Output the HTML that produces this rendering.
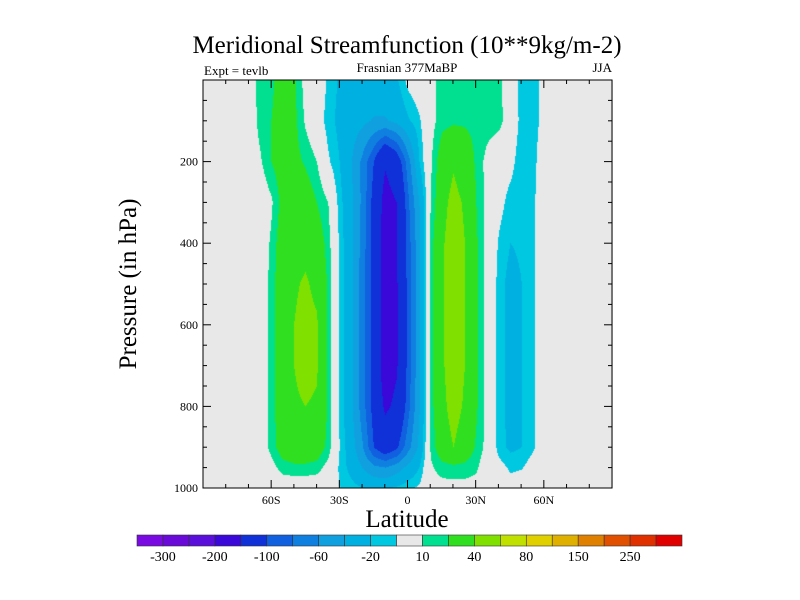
<!DOCTYPE html>
<html><head><meta charset="utf-8"><style>
html,body{margin:0;padding:0;background:#fff;width:800px;height:600px;overflow:hidden}
#wrap{position:relative;width:800px;height:600px}
canvas{position:absolute;left:203px;top:80px}
svg{position:absolute;left:0;top:0}
text{font-family:"Liberation Serif",serif;fill:#000}
</style></head><body>
<div id="wrap">
<canvas id="field" width="410" height="408"></canvas>
<svg id="svg" width="800" height="600"></svg>
</div>
<script>
const lats = [-75,-70,-65,-60,-55,-50,-45,-40,-35,-30,-25,-20,-15,-10,-5,0,5,10,15,20,25,30,35,40,45,50,55,60,65];
const pressures = [0,100,200,300,400,500,600,700,800,900,950,1000];
const psi0   = [0,0,15,18,25,22,5,0,-12,-22,-25,-25,-24,-24,-22,-6,0,5,15,17,17,17,16,13,0,-15,-15,-5,0];
const psi100 = [0,0,14,20,26,24,8,-2,-15,-24,-30,-35,-42,-42,-35,-22,-12,5,16,18,18,17,16,14,2,-15,-15,-5,0];
const psi200 = [0,0,8,20,28,25,18,10,-8,-20,-38,-65,-100,-145,-120,-70,-20,8,30,38,30,18,5,-2,-5,-18,-14,0,0];
const psi300 = [0,0,0,8,25,32,30,20,10,-15,-35,-65,-110,-168,-150,-85,-40,10,35,45,38,20,5,-5,-15,-18,-12,0,0];
const psi400 = [0,0,0,12,30,35,35,30,15,-12,-35,-68,-112,-172,-152,-90,-45,15,38,48,40,22,5,-12,-20,-18,-12,0,0];
const psi500 = [0,0,0,14,32,38,42,36,18,-12,-35,-70,-112,-175,-155,-92,-45,15,38,48,40,22,5,-15,-25,-20,-12,0,0];
const psi600 = [0,0,0,14,32,40,45,42,18,-12,-35,-70,-112,-176,-155,-92,-45,15,38,48,40,22,5,-15,-25,-20,-12,0,0];
const psi700 = [0,0,0,14,32,40,45,42,18,-12,-35,-70,-112,-176,-155,-92,-45,15,38,48,40,22,5,-15,-25,-20,-12,0,0];
const psi800 = [0,0,0,14,32,38,40,38,18,-12,-35,-70,-110,-158,-140,-88,-42,15,36,46,38,22,5,-15,-25,-20,-12,0,0];
const psi900 = [0,0,0,14,28,32,32,30,16,-10,-30,-58,-100,-122,-105,-68,-35,12,32,40,32,18,5,-15,-23,-20,-12,0,0];
const psi950 = [0,0,0,5,15,17,17,15,5,-12,-25,-40,-55,-60,-50,-35,-20,8,15,17,16,12,0,-5,-12,-11,-3,0,0];
const psi1000= [0,0,0,0,0,0,0,0,0,-10,-15,-20,-22,-22,-18,-12,-8,5,5,5,5,5,0,0,-5,-2,0,0,0];
const levels = [-300,-250,-200,-150,-100,-80,-60,-40,-20,-10,10,20,40,60,80,100,150,200,250,300];
const colors = ["#7a0ae2","#6a0ad8","#5a10da","#3a08d8","#1030d8","#1060e0","#1080e0","#10a0e0","#00b0e0","#00c8e0","#e8e8e8","#00e090","#30e020","#80e000","#c0e000","#e0d000","#e0b000","#e08000","#e05000","#e03000","#e00000"];
const cbLabels = ["-300","-200","-100","-60","-20","10","40","80","150","250"];
const xTickVals = [-60,-30,0,30,60];
const xTickLabels = ["60S","30S","0","30N","60N"];
const yTickVals = [200,400,600,800,1000];

const grid=[psi0,psi100,psi200,psi300,psi400,psi500,psi600,psi700,psi800,psi900,psi950,psi1000];
const X0=203,X1=612,Y0=80,Y1=488;
const xs=lat=>X0+(lat+90)/180*(X1-X0);
const ys=p=>Y0+p/1000*(Y1-Y0);
function val(lat,p){
  if(lat<lats[0]||lat>lats[lats.length-1])return 0;
  let i=0;while(i<lats.length-2&&lat>lats[i+1])i++;
  let j=0;while(j<pressures.length-2&&p>pressures[j+1])j++;
  const tx=(lat-lats[i])/(lats[i+1]-lats[i]),ty=(p-pressures[j])/(pressures[j+1]-pressures[j]);
  const a=grid[j][i]*(1-tx)+grid[j][i+1]*tx,b=grid[j+1][i]*(1-tx)+grid[j+1][i+1]*tx;
  return a*(1-ty)+b*ty;
}
function colorIdx(v){let k=0;while(k<levels.length&&v>=levels[k])k++;return k;}
function hex(c){return [parseInt(c.substr(1,2),16),parseInt(c.substr(3,2),16),parseInt(c.substr(5,2),16)];}
const rgb=colors.map(hex);
const cv=document.getElementById('field'),ctx=cv.getContext('2d');
const W=cv.width,H=cv.height,img=ctx.createImageData(W,H);
for(let y=0;y<H;y++){const p=(y+0.5)/H*1000;for(let x=0;x<W;x++){const lat=(x+0.5)/W*180-90;const c=rgb[colorIdx(val(lat,p))];const o=(y*W+x)*4;img.data[o]=c[0];img.data[o+1]=c[1];img.data[o+2]=c[2];img.data[o+3]=255;}}
ctx.putImageData(img,0,0);

const svg=document.getElementById('svg'),NS="http://www.w3.org/2000/svg";
function mk(t,a,txt){const e=document.createElementNS(NS,t);for(const k in a)e.setAttribute(k,a[k]);if(txt!==undefined)e.textContent=txt;svg.appendChild(e);return e;}
let e;
e=mk('rect',{x:X0,y:Y0,width:X1-X0,height:Y1-Y0,fill:'none',stroke:'#000','stroke-width':1});


for(let lat=-80;lat<=80;lat+=10){const maj=lat%30===0;const L=maj?8:4;const x=xs(lat);
 e=mk('line',{x1:x,x2:x,y1:Y1,y2:Y1-L,stroke:'#000'});
 
 
 e=mk('line',{x1:x,x2:x,y1:Y0,y2:Y0+L,stroke:'#000'});
 
 }
for(let p=50;p<1000;p+=50){const maj=p%200===0;const L=maj?8:4;const y=ys(p);
 e=mk('line',{x1:X0,x2:X0+L,y1:y,y2:y,stroke:'#000'});
 
 
 e=mk('line',{x1:X1,x2:X1-L,y1:y,y2:y,stroke:'#000'});
 
 }
xTickVals.forEach((v,i)=>{e=mk('text',{x:xs(v),y:Y1+16,'text-anchor':'middle','font-size':12},xTickLabels[i]);
 
 });
yTickVals.forEach(v=>{e=mk('text',{x:X0-5,y:ys(v)+4,'text-anchor':'end','font-size':12},String(v));
 
 });
e=mk('text',{x:407,y:53,'text-anchor':'middle','font-size':25},'Meridional Streamfunction (10**9kg/m-2)');


e=mk('text',{x:204,y:75,'font-size':13},'Expt = tevlb');


e=mk('text',{x:407,y:72,'text-anchor':'middle','font-size':13},'Frasnian 377MaBP');


e=mk('text',{x:612,y:72,'text-anchor':'end','font-size':13},'JJA');


e=mk('text',{x:407,y:527,'text-anchor':'middle','font-size':25},'Latitude');


e=mk('text',{x:0,y:0,'text-anchor':'middle','font-size':25,transform:'translate(136,284) rotate(-90)'},'Pressure (in hPa)');


const CB0=137,CB1=682,CBY=535,CBH=11,bw=(CB1-CB0)/colors.length;
colors.forEach((c,i)=>{e=mk('rect',{x:CB0+i*bw,y:CBY,width:bw,height:CBH,fill:c,stroke:'#333','stroke-width':0.6});
 
 });
cbLabels.forEach((t,i)=>{e=mk('text',{x:CB0+(2*i+1)*bw,y:CBY+CBH+15,'text-anchor':'middle','font-size':14},t);
 
 });
</script>
</body></html>
